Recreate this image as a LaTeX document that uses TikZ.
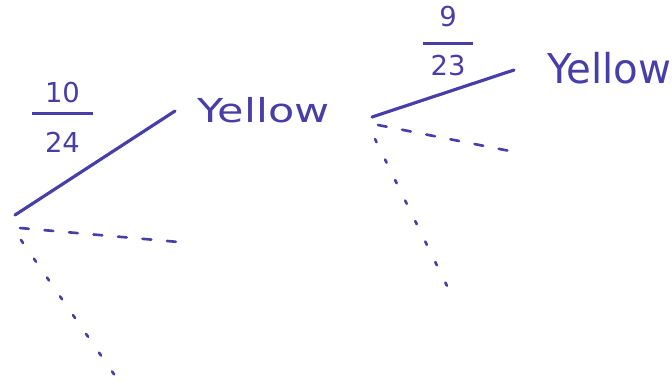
\documentclass[tikz,border=0pt]{standalone}
\usepackage{fontspec}
\setmainfont{DejaVu Sans}
\usepackage{graphicx}
\definecolor{ink}{RGB}{72,62,168}
\begin{document}
\begin{tikzpicture}[x=0.02cm,y=-0.02cm,
  solidedge/.style={draw=ink,line width=1.8pt,line cap=round},
  dashedge/.style={draw=ink,line width=1.5pt,line cap=round,dash pattern=on 5pt off 9pt},
  dotedge/.style={draw=ink,line width=1.5pt,line cap=round,dash pattern=on 2pt off 11pt},
  lbl/.style={text=ink,inner sep=0pt},
  frac/.style={text=ink,font=\fontsize{15.6}{17}\selectfont,inner sep=0pt,align=center,anchor=north}]
\useasboundingbox (0,0) rectangle (672,387);
% left tree
\coordinate (r1) at (15,215);
\node[lbl,anchor=west,font=\fontsize{18.8}{20}\selectfont] (y1) at (197,110) {\scalebox{1.3}[1]{Yellow}};
\node[frac] (f1) at (62.5,82) {10\\[-9.9pt]\textcolor{ink}{\rule{34.7pt}{1.6pt}}\\[4pt]24};
\coordinate (d1) at (190,243);
\coordinate (p1) at (118,380);
\draw[solidedge] (r1) -- ([shift={(-22,1)}]y1.west);
\draw[dashedge] ([shift={(5,13)}]r1) -- (d1);
\draw[dotedge] ([shift={(6,25)}]r1) -- (p1);
% right tree
\coordinate (r2) at (372,117);
\node[lbl,anchor=west,font=\fontsize{23.4}{25}\selectfont] (y2) at (547,68) {\scalebox{0.98}[1]{Yellow}};
\node[frac] (f2) at (448,6) {9\\[-6.5pt]\textcolor{ink}{\rule{28.5pt}{1.6pt}}\\[0pt]23};
\coordinate (d2) at (520,153);
\coordinate (p2) at (450,292);
\draw[solidedge] (r2) -- ([shift={(-33,2)}]y2.west);
\draw[dashedge] ([shift={(6,8)}]r2) -- (d2);
\draw[dotedge] ([shift={(3,22)}]r2) -- (p2);
\end{tikzpicture}
\end{document}
